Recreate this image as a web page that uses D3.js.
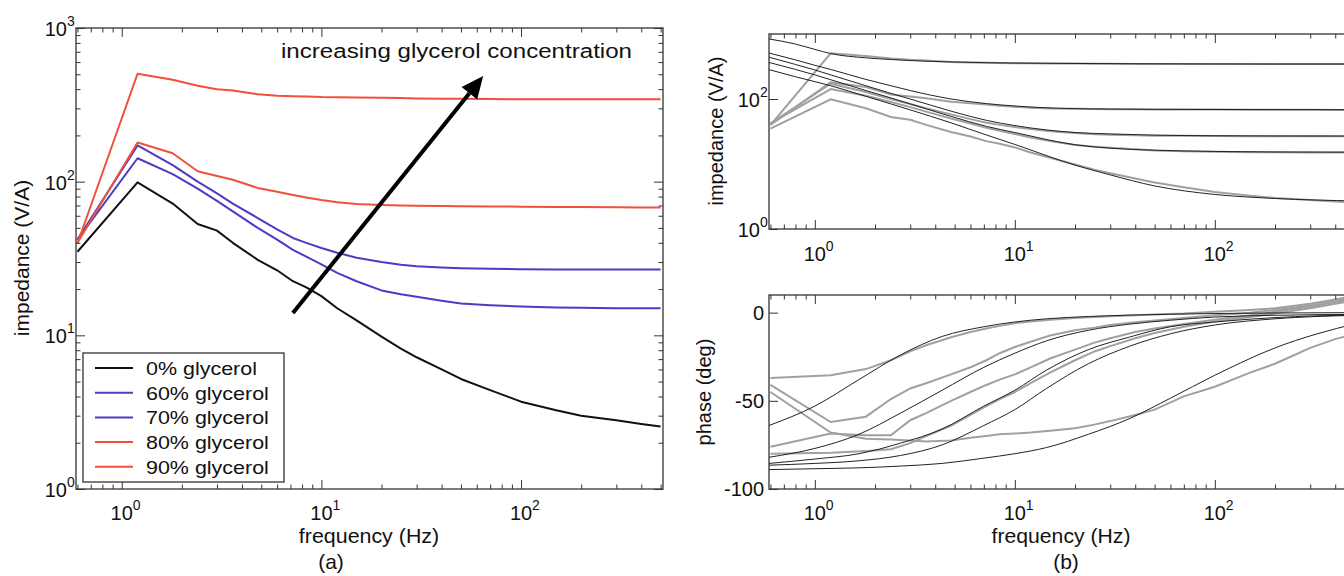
<!DOCTYPE html>
<html><head><meta charset="utf-8">
<script src="https://cdn.jsdelivr.net/npm/d3@7"></script>
<style>
body{margin:0;background:#fff}
text{font-family:"Liberation Sans",Arial,Helvetica,sans-serif;fill:#111}
</style>
</head><body>
<svg id="c" width="1344" height="576"></svg>
<script>
// ---------- DATA ----------
const freq = [0.6,1.2,1.8,2.4,3.0,3.6,4.8,6,7.2,8.4,10,12,15,20,25,30,40,50,70,100,150,200,300,400,500];
const imp0  = [35,99,72,53,48,40,31,26.5,22.5,20.5,18,15,12.5,9.8,8.2,7.2,6.0,5.2,4.4,3.7,3.25,3.0,2.8,2.65,2.55];
const imp60 = [42,142,112,90,75,64,50,42,36,32.5,29,25.5,22.5,19.6,18.5,17.8,16.8,16.1,15.7,15.4,15.2,15.1,15.0,15.0,15.0];
const imp70 = [42,172,128,100,84,72,58,49,43,40,37,34.5,32,30,28.8,28.2,27.6,27.3,27.1,26.9,26.8,26.8,26.8,26.8,26.8];
const imp80 = [40,180,153,117,109,103,91,86,82,79,76,73.5,71.5,70.5,70,69.8,69.5,69.2,69,68.7,68.5,68.3,68.2,68,68];
const imp90 = [39.6,504,460,421,400,392,370,363,360,358,355,354,353,352,350,348,347,346,345,344,344,344,344,344,344];
const seriesNames = ["0% glycerol","60% glycerol","70% glycerol","80% glycerol","90% glycerol"];
const seriesColors = ["#111111","#4a3cc4","#4a3cc4","#f0503c","#f0503c"];

// model fits (panel b, impedance)
const fitFreq = [0.59,0.8,1.0,1.2,1.8,2.4,3.0,4.8,7.2,10,20,30,50,100,200,514];
const fit90 = [840,700,580,500,430,405,390,372,362,357,352,350,348,346,345,345];
const fit80 = [510,400,330,285,200,160,135,100,85,78,71,70,69.3,69,68.7,68.5];
const fit70 = [440,340,280,235,160,122,100,65,47,39,30.5,29,27.8,27.2,27,26.9];
const fit60 = [365,285,235,198,135,104,84,54,38,30.5,19.8,17.5,16.3,15.6,15.3,15.2];
const fit0  = [283,220,185,160,110,84,68,43,28,20,9.6,6.8,4.6,3.4,2.95,2.7];

// phase data (panel b)
const ph90 = [-37,-35.5,-32,-27,-22,-18.5,-14,-11,-9,-7.5,-6,-5,-4,-3,-2.5,-2,-1.5,-1,-0.5,0.5,1.5,2.5,5,7.5,9.5];
const ph80 = [-41,-62,-59,-49,-43,-40,-35,-31,-27,-23,-19.5,-16.5,-13,-10,-8.5,-7,-5.5,-4.5,-3,-1.5,0,1.5,4,6.5,8.5];
const ph70 = [-76,-68.5,-69.5,-69.5,-61,-57,-50,-45,-41,-38,-35,-31,-26,-21,-17,-14.5,-11,-9,-6.5,-4,-1.5,0.5,3.5,6,8];
const ph60 = [-80,-79.5,-78.5,-77.5,-74,-70,-64,-58,-53,-49,-45,-40,-34,-27,-22,-19,-14.5,-11.5,-8,-5,-2.5,-0.5,2.5,5,7];
const ph0  = [-45,-68,-71.5,-72,-72.5,-73,-72.5,-71,-70,-69,-68.5,-68,-67,-65.5,-63.5,-61.5,-58,-55,-47.5,-42,-34,-29,-20,-15,-12];
// phase fits
const pFreq = [0.59,1.0,1.66,2.68,4.33,7.0,10,14.4,23.3,37.6,60,100,200,514];
const pfit90 = [-64,-53,-38,-24,-13.5,-8,-5.3,-3.5,-2.2,-1.4,-0.9,-0.5,-0.2,0];
const pfit80 = [-82,-77,-69,-57,-44,-31,-23,-16,-10,-6.5,-4.3,-2.5,-1.5,-1];
const pfit70 = [-85.5,-83,-80,-74,-66,-53,-44,-32.6,-21,-13.8,-8,-5.3,-2.8,-1.3];
const pfit60 = [-86.5,-85.5,-84,-81,-75,-64,-55,-43,-29,-19,-12,-7,-3.5,-1.5];
const pfit0  = [-89,-88.5,-88,-87,-85.5,-82.5,-80,-76.5,-69,-60,-48.5,-35.5,-20,-6];

const xDomain = [0.59, 514];
const impDomain = [1, 1000];
const phaseDomain = [-100, 10];
const xTickLabels = [1, 10, 100];
const phaseTickLabels = [-100, -50, 0];
const arrowFrom = [7.2, 14];   // (Hz, V/A)
const arrowTo = [64.6, 487];
const annotation = "increasing glycerol concentration";

// ---------- DRAW ----------
const svg = d3.select('#c');
svg.append('rect').attr('width',1344).attr('height',576).attr('fill','#fff');

const xA = d3.scaleLog().domain(xDomain).range([76, 663]);
const yA = d3.scaleLog().domain(impDomain).range([489, 28]);
const xB = d3.scaleLog().domain(xDomain).range([769, 1357]);
const yB1 = d3.scaleLog().domain(impDomain).range([229, 34]);
const yB2 = d3.scaleLinear().domain(phaseDomain).range([489, 295]);

function majors(lo, hi){const r=[];for(let k=-3;k<=4;k++){const v=Math.pow(10,k);if(v>=lo*0.999&&v<=hi*1.001)r.push(v);}return r;}
function minorsOf(lo, hi){const r=[];for(let k=-3;k<=4;k++){for(let m=2;m<=9;m++){const v=m*Math.pow(10,k);if(v>=lo&&v<=hi)r.push(v);}}return r;}

function ticks(g, scale, orient, at, values, len){
  const gen = {bottom:d3.axisBottom, top:d3.axisTop, left:d3.axisLeft, right:d3.axisRight}[orient];
  const ax = gen(scale).tickValues(values).tickSize(-len).tickFormat('');
  const tr = (orient==='bottom'||orient==='top') ? `translate(0,${at})` : `translate(${at},0)`;
  const a = g.append('g').attr('transform', tr).call(ax);
  a.select('.domain').remove();
  a.selectAll('line').attr('stroke','#333').attr('stroke-width',1);
}
function frame(g, x, y){
  const [x0,x1]=x.range(), [y0,y1]=y.range();
  g.append('rect').attr('x',x0).attr('y',y1).attr('width',x1-x0).attr('height',y0-y1)
    .attr('fill','none').attr('stroke','#333').attr('stroke-width',1.3);
}
function xLogTicks(g, x, y){
  const [y0,y1]=y.range(); const d=x.domain();
  ticks(g,x,'bottom',y0,majors(d[0],d[1]),9);
  ticks(g,x,'bottom',y0,minorsOf(d[0],d[1]),4.5);
  ticks(g,x,'top',y1,majors(d[0],d[1]),9);
  ticks(g,x,'top',y1,minorsOf(d[0],d[1]),4.5);
}
function powLabelX(g, x, yBase, v){
  const e = Math.round(Math.log10(v));
  g.append('text').attr('x',x(v)).attr('y',yBase).attr('text-anchor','middle').attr('font-size',20).text('10');
  g.append('text').attr('x',x(v)+11).attr('y',yBase-10).attr('font-size',14).text(e);
}
function powLabelY(g, xEnd, y, v){
  const e = Math.round(Math.log10(v));
  g.append('text').attr('x',xEnd-9).attr('y',y(v)+8).attr('text-anchor','end').attr('font-size',20).text('10');
  g.append('text').attr('x',xEnd-9).attr('y',y(v)-2).attr('font-size',14).text(e);
}
function sText(g, x, y, str, size, sx, anchor){
  return g.append('text').attr('transform',`translate(${x},${y}) scale(${sx},1)`)
    .attr('text-anchor',anchor||'start').attr('font-size',size).text(str);
}
const pathOf = (xs, ys, x, y, curve) => d3.line().curve(curve||d3.curveLinear).x(d=>x(d[0])).y(d=>y(d[1]))(xs.map((f,i)=>[f,ys[i]]));

// ---- panel (a)
const gA = svg.append('g');
svg.append('clipPath').attr('id','clipA').append('rect').attr('x',76).attr('y',28).attr('width',587).attr('height',461);
const impSeries = [imp0, imp60, imp70, imp80, imp90];
const linesA = gA.append('g').attr('clip-path','url(#clipA)');
impSeries.forEach((s,i)=>{
  linesA.append('path').attr('d', pathOf(freq, s, xA, yA)).attr('fill','none')
    .attr('stroke', seriesColors[i]).attr('stroke-width',2).attr('stroke-linejoin','round');
});
frame(gA, xA, yA);
xLogTicks(gA, xA, yA);
ticks(gA,yA,'left',76,majors(1,1000),9);
ticks(gA,yA,'left',76,minorsOf(1,1000),4.5);
ticks(gA,yA,'right',663,majors(1,1000),9);
ticks(gA,yA,'right',663,minorsOf(1,1000),4.5);
majors(1,1000).forEach(v=>powLabelY(gA, 76, yA, v));
xTickLabels.forEach(v=>powLabelX(gA, xA, 520, v));
sText(gA, 369, 543, 'frequency (Hz)', 20, 1.07, 'middle');
sText(gA, 331, 569, '(a)', 20, 1.05, 'middle');
gA.append('text').attr('transform','translate(29,258) rotate(-90)').attr('text-anchor','middle').attr('font-size',21).text('impedance (V/A)');

// annotation & arrow
gA.append('text').attr('x',281).attr('y',58).attr('font-size',20)
  .attr('textLength',351).attr('lengthAdjust','spacingAndGlyphs').text(annotation);
{
  const x1=xA(arrowFrom[0]), y1=yA(arrowFrom[1]), x2=xA(arrowTo[0]), y2=yA(arrowTo[1]);
  const ang=Math.atan2(y2-y1,x2-x1), L=22, Wd=10;
  const bx=x2-L*Math.cos(ang), by=y2-L*Math.sin(ang);
  gA.append('line').attr('x1',x1).attr('y1',y1).attr('x2',bx).attr('y2',by)
    .attr('stroke','#000').attr('stroke-width',4);
  const px=-Math.sin(ang), py=Math.cos(ang);
  gA.append('polygon').attr('points',[[x2,y2],[bx+px*Wd,by+py*Wd],[bx-px*Wd,by-py*Wd]].map(p=>p.join(',')).join(' '))
    .attr('fill','#000');
}
// legend
{
  const lg = gA.append('g');
  lg.append('rect').attr('x',83).attr('y',353).attr('width',201).attr('height',129)
    .attr('fill','#fff').attr('stroke','#333').attr('stroke-width',1.3);
  seriesNames.forEach((n,i)=>{
    const yy = 368 + i*24.7;
    lg.append('line').attr('x1',95).attr('x2',133).attr('y1',yy).attr('y2',yy)
      .attr('stroke',seriesColors[i]).attr('stroke-width',2);
    sText(lg, 146, yy+7, n, 19, 1.13, 'start');
  });
}

// ---- panel (b) top
const gB = svg.append('g');
svg.append('clipPath').attr('id','clipB1').append('rect').attr('x',769).attr('y',34).attr('width',588).attr('height',195);
svg.append('clipPath').attr('id','clipB2').append('rect').attr('x',769).attr('y',295).attr('width',588).attr('height',194);
const fits = [fit0, fit60, fit70, fit80, fit90];
const b1 = gB.append('g').attr('clip-path','url(#clipB1)');
impSeries.forEach(s=>{
  b1.append('path').attr('d', pathOf(freq, s, xB, yB1)).attr('fill','none')
    .attr('stroke','#a0a0a0').attr('stroke-width',2);
});
fits.forEach(s=>{
  b1.append('path').attr('d', pathOf(fitFreq, s, xB, yB1, d3.curveMonotoneX))
    .attr('fill','none').attr('stroke','#222').attr('stroke-width',1);
});
frame(gB, xB, yB1);
xLogTicks(gB, xB, yB1);
ticks(gB,yB1,'left',769,[1,100],9);
[1,100].forEach(v=>powLabelY(gB, 769, yB1, v));
xTickLabels.forEach(v=>powLabelX(gB, xB, 261, v));
gB.append('text').attr('transform','translate(723,131) rotate(-90)').attr('text-anchor','middle').attr('font-size',20).text('impedance (V/A)');

// ---- panel (b) bottom
const b2 = gB.append('g').attr('clip-path','url(#clipB2)');
const phases = [ph0, ph60, ph70, ph80, ph90];
const pfits = [pfit0, pfit60, pfit70, pfit80, pfit90];
phases.forEach(s=>{
  b2.append('path').attr('d', pathOf(freq, s, xB, yB2)).attr('fill','none')
    .attr('stroke','#a0a0a0').attr('stroke-width',2);
});
pfits.forEach(s=>{
  b2.append('path').attr('d', pathOf(pFreq, s, xB, yB2, d3.curveMonotoneX))
    .attr('fill','none').attr('stroke','#222').attr('stroke-width',1);
});
frame(gB, xB, yB2);
xLogTicks(gB, xB, yB2);
ticks(gB,yB2,'left',769,phaseTickLabels,9);
phaseTickLabels.forEach(v=>{
  gB.append('text').attr('x',764).attr('y',yB2(v)+7).attr('text-anchor','end').attr('font-size',20).text(String(v));
});
xTickLabels.forEach(v=>powLabelX(gB, xB, 520, v));
sText(gB, 1061, 543, 'frequency (Hz)', 20, 1.06, 'middle');
sText(gB, 1066, 569, '(b)', 20, 1.05, 'middle');
gB.append('text').attr('transform','translate(711,392) rotate(-90)').attr('text-anchor','middle').attr('font-size',20).text('phase (deg)');
</script>
</body></html>
